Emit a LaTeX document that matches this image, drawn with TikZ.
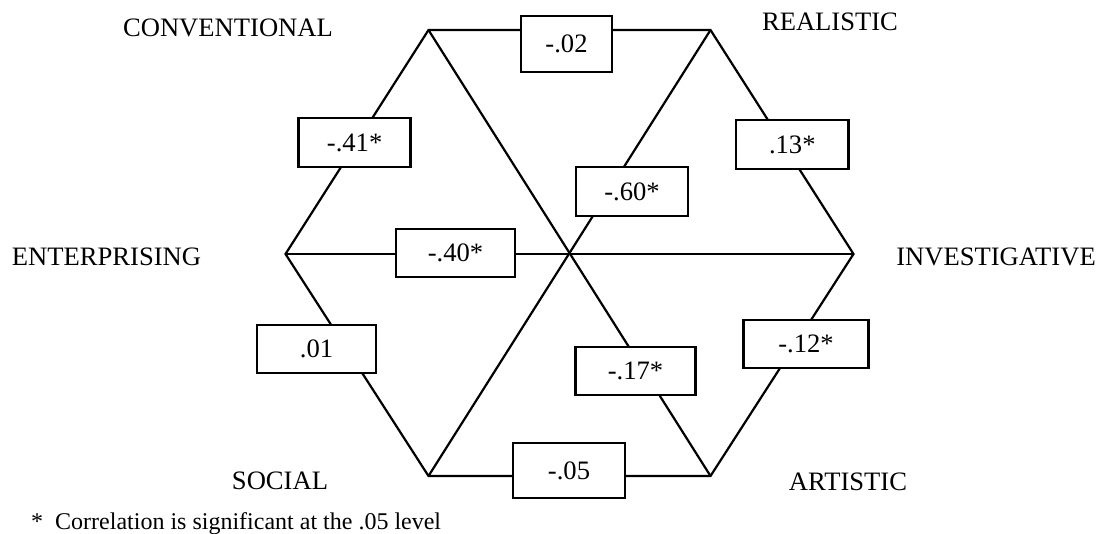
\documentclass[tikz,border=0pt]{standalone}
\usepackage{fontspec}
\setmainfont{Liberation Serif}
\begin{document}
\begin{tikzpicture}[x=1pt,y=-1pt,
  edge/.style={line width=2.2pt, line join=miter},
  valbox/.style={draw, fill=white, line width=2.6pt, inner sep=0pt,
    minimum height=49pt, font=\fontsize{26.6}{30}\selectfont},
  typelabel/.style={font=\fontsize{26.6}{30}\selectfont, inner sep=0pt, anchor=base},
  note/.style={font=\fontsize{24}{28}\selectfont, inner sep=0pt, anchor=base west}
]
\useasboundingbox (0,0) rectangle (1102,533);
% hexagon vertices
\coordinate (TL) at (428.5,30);
\coordinate (TR) at (710.5,30);
\coordinate (R)  at (853.5,254);
\coordinate (BR) at (710.5,476);
\coordinate (BL) at (428.5,476);
\coordinate (L)  at (285.5,254);
% edges and diagonals
\draw[edge] (TL) -- (TR) -- (R) -- (BR) -- (BL) -- (L) -- cycle;
\draw[edge] (TL) -- (BR);
\draw[edge] (TR) -- (BL);
\draw[edge] (L) -- (R);
% value boxes
\node[valbox, minimum width=91pt, minimum height=56pt] (b02) at (566.5,44) {-.02};
\node[valbox, minimum width=112pt] (b41) at (354.6,142.5) {-.41*};
\node[valbox, minimum width=112.5pt] (b13) at (792.3,144.5) {.13*};
\node[valbox, minimum width=112pt] (b60) at (632,191.5) {-.60*};
\node[valbox, minimum width=119pt, minimum height=48pt] (b40) at (455.5,253) {-.40*};
\node[valbox, minimum width=119pt, minimum height=48pt] (b01) at (316.5,349) {.01};
\node[valbox, minimum width=120pt, minimum height=48pt] (b17) at (635.5,371) {-.17*};
\node[valbox, minimum width=125pt, minimum height=48pt] (b12) at (806,344) {-.12*};
\node[valbox, minimum width=112pt, minimum height=55pt] (b05) at (569,470.5) {-.05};
% type labels
\node[typelabel] (conv) at (228,36.8) {CONVENTIONAL};
\node[typelabel] (real) at (830,30.8) {REALISTIC};
\node[typelabel] (ent)  at (106.5,265.8) {ENTERPRISING};
\node[typelabel] (inv)  at (996,265.8) {INVESTIGATIVE};
\node[typelabel] (soc)  at (280,489.8) {SOCIAL};
\node[typelabel] (art)  at (848,490.8) {ARTISTIC};
% footnote
\node[note] (fn) at (31,529) {*\ \ Correlation is significant at the .05 level};
\end{tikzpicture}
\end{document}
